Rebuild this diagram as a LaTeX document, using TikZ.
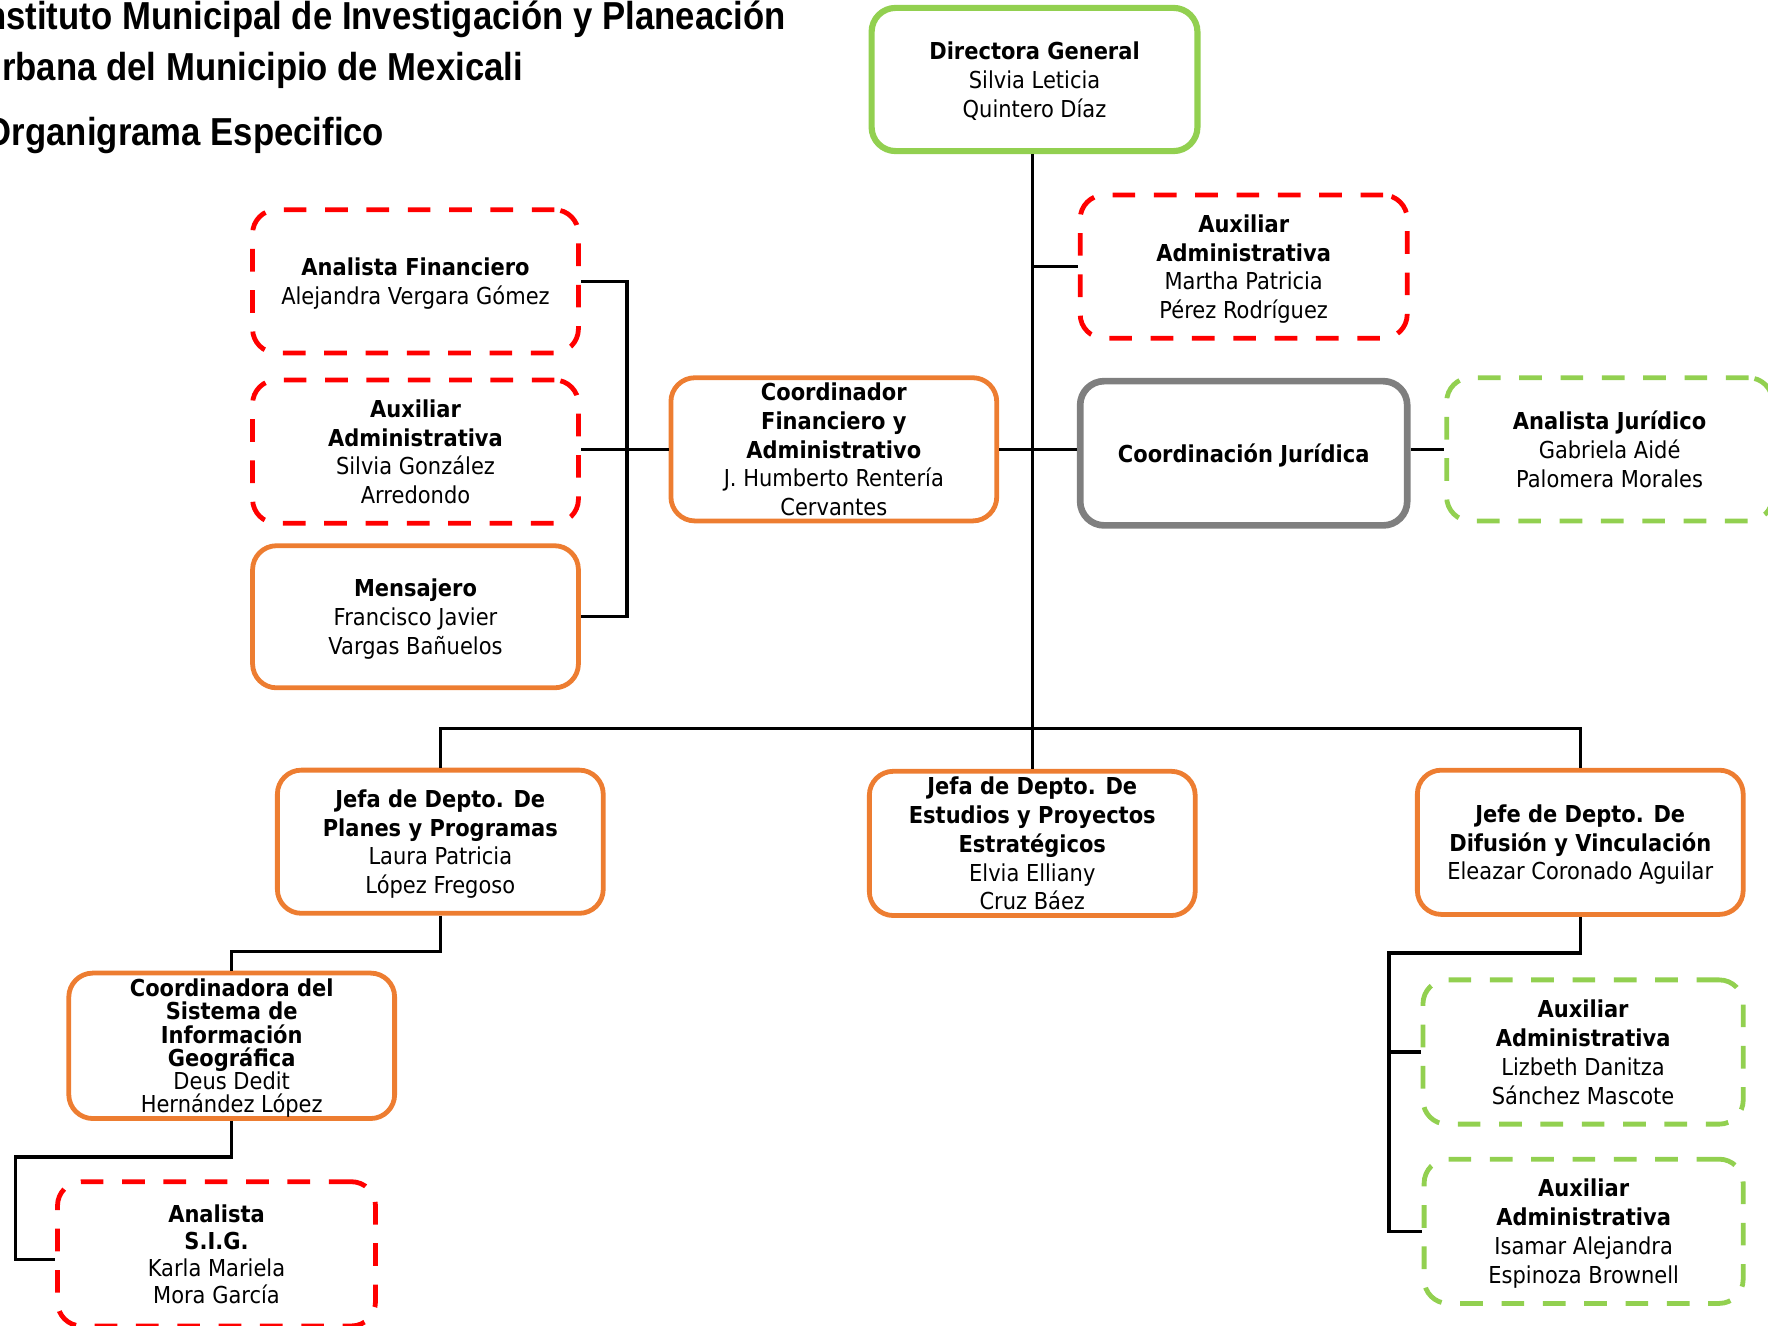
\documentclass[tikz,border=0pt]{standalone}
\usepackage{fontspec}
\newfontfamily\bodyfont[FakeStretch=0.9]{DejaVu Sans}
\newfontfamily\titlefont[FakeStretch=0.89]{Liberation Sans}
\usetikzlibrary{calc}
\definecolor{boxred}{HTML}{FF0000}
\definecolor{boxorange}{HTML}{ED7D31}
\definecolor{boxgreen}{HTML}{92D050}
\definecolor{boxgray}{HTML}{7F7F7F}
\tikzset{
  box/.style={rectangle, rounded corners=18pt, align=center, inner sep=0pt,
    minimum width=244.4pt, minimum height=107.4pt,
    font=\bodyfont\fontsize{17.5pt}{21.6pt}\selectfont,
    text depth=-3pt},
  rbox/.style={box, draw=boxred, line width=3.6pt, dash pattern=on 17pt off 14pt},
  obox/.style={box, draw=boxorange, line width=3.6pt},
  gbox/.style={box, draw=boxgreen, line width=4.6pt},
  gdbox/.style={box, draw=boxgreen, line width=3.6pt, dash pattern=on 17pt off 14pt},
  graybox/.style={box, draw=boxgray, line width=5pt},
  link/.style={draw=black, line width=2.5pt},
  ttl/.style={font=\titlefont\bfseries\fontsize{29.25pt}{34pt}\selectfont, inner sep=0pt, anchor=base east}
}
\begin{document}
\begin{tikzpicture}[x=0.8457pt, y=-0.8457pt]
\path[use as bounding box] (0,0) rectangle (1568,1176);
\clip (0,0) rectangle (1568,1176);

% title
\node[ttl] (t1) at (697,26) {Instituto Municipal de Investigación y Planeación};
\node[ttl] (t2) at (464,71) {Urbana del Municipio de Mexicali};
\node[ttl] (t3) at (341,128.6) {Organigrama Especifico};

% boxes
\node[gbox] (dir) at (917.5,70.5) {\textbf{Directora General}\\Silvia Leticia\\Quintero Díaz};
\node[rbox, minimum width=245.3pt] (aux1) at (1103,236.5) {\textbf{Auxiliar}\\\textbf{Administrativa}\\Martha Patricia\\Pérez Rodríguez};
\node[rbox] (af) at (368.5,249.5) {\textbf{Analista Financiero}\\Alejandra Vergara Gómez};
\node[rbox] (aux2) at (368.5,400.5) {\textbf{Auxiliar}\\\textbf{Administrativa}\\Silvia González\\Arredondo};
\node[obox, minimum height=106.6pt] (men) at (368.5,547) {\textbf{Mensajero}\\Francisco Javier\\Vargas Bañuelos};
\node[obox] (cfa) at (739.5,398.5) {\textbf{Coordinador}\\\textbf{Financiero y}\\\textbf{Administrativo}\\J. Humberto Rentería\\Cervantes};
\node[graybox, minimum width=245.3pt, minimum height=108.2pt] (cj) at (1103,402) {\textbf{Coordinación Jurídica}};
\node[gdbox] (aj) at (1427.5,398.5) {\textbf{Analista Jurídico}\\Gabriela Aidé\\Palomera Morales};
\node[obox] (planes) at (390.5,746.5) {\textbf{Jefa de Depto. De}\\\textbf{Planes y Programas}\\Laura Patricia\\López Fregoso};
\node[obox, minimum height=108.2pt] (estudios) at (915.5,748) {\textbf{Jefa de Depto. De}\\\textbf{Estudios y Proyectos}\\\textbf{Estratégicos}\\Elvia Elliany\\Cruz Báez};
\node[obox, minimum height=108.2pt] (difusion) at (1401.5,747) {\textbf{Jefe de Depto. De}\\\textbf{Difusión y Vinculación}\\Eleazar Coronado Aguilar};
\node[obox, minimum height=109.1pt, font=\bodyfont\fontsize{17.5pt}{17.4pt}\selectfont] (sigc) at (205.5,927.5) {\textbf{Coordinadora del}\\\textbf{Sistema de}\\\textbf{Información}\\\textbf{Geográfica}\\Deus Dedit\\Hernández López};
\node[rbox, minimum width=238.5pt, minimum height=108.2pt, font=\bodyfont\fontsize{17.5pt}{20.3pt}\selectfont] (asig) at (192,1112) {\textbf{Analista}\\\textbf{S.I.G.}\\Karla Mariela\\Mora García};
\node[gdbox, minimum width=240.2pt, minimum height=108.2pt] (aux3) at (1404,933) {\textbf{Auxiliar}\\\textbf{Administrativa}\\Lizbeth Danitza\\Sánchez Mascote};
\node[gdbox, minimum width=239.3pt, minimum height=108.2pt] (aux4) at (1404.5,1092) {\textbf{Auxiliar}\\\textbf{Administrativa}\\Isamar Alejandra\\Espinoza Brownell};

% connectors
\coordinate (brk) at (556,398.5);
\coordinate (sigl) at (14,1117);
\coordinate (difl) at (1232,1092);

\draw[link] (estudios.north |- dir.south) -- (estudios.north);
\draw[link] (aux1.west -| estudios.north) -- (aux1.west);
\draw[link] (cfa.east) -- (cfa.east -| cj.west);
\draw[link] (cj.east |- aj.west) -- (aj.west);
\draw[link] (af.east) -| (brk) |- (men.east);
\draw[link] (aux2.east |- cfa.west) -- (cfa.west);
\draw[link] (planes.north) -- ++(0,-35) -| (difusion.north);
\draw[link] (planes.south) -- ++(0,32) -| (sigc.north);
\draw[link] (sigc.south) -- ++(0,32) -| (sigl) -- (sigl -| asig.west);
\draw[link] (difusion.south) -- ++(0,32) -| (difl) -- (difl -| aux4.west);
\draw[link] (aux3.west -| difl) -- (aux3.west);
\end{tikzpicture}
\end{document}
